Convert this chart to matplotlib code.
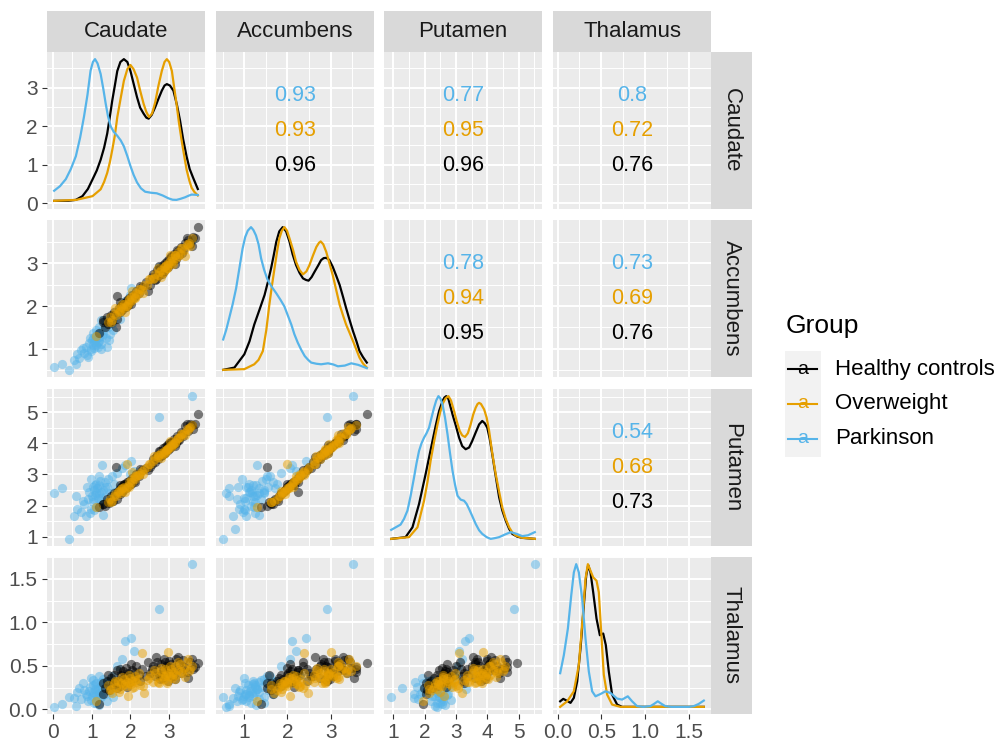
import numpy as np
import matplotlib.pyplot as plt
from matplotlib.lines import Line2D
from matplotlib.patches import Rectangle

plt.rcParams['font.family'] = ['Liberation Sans', 'DejaVu Sans']

variables = ['Caudate', 'Accumbens', 'Putamen', 'Thalamus']
groups = ['Healthy controls', 'Overweight', 'Parkinson']
colors = {'Healthy controls': '#000000', 'Overweight': '#E69F00', 'Parkinson': '#56B4E9'}

# --- subject values ---
hc_caudate = [1.20, 1.28, 1.35, 1.40, 1.45, 1.50, 1.52, 1.58, 1.62, 1.66, 1.70, 1.72, 1.75, 1.78,
              1.80, 1.82, 1.85, 1.88, 1.90, 1.93, 1.97, 2.00, 2.05, 2.10, 2.15, 2.22, 2.30, 2.40,
              2.50, 2.58, 2.63, 2.68, 2.72, 2.76, 2.80, 2.84, 2.87, 2.90, 2.93, 2.95, 2.98, 3.00,
              3.03, 3.06, 3.10, 3.13, 3.17, 3.20, 3.25, 3.30, 3.36, 3.42, 3.48, 3.55, 3.62, 3.74,
              1.30, 1.42, 1.55, 1.65, 1.73, 1.83, 1.92, 2.02, 2.12, 2.25, 2.45, 2.55, 2.65, 2.74,
              2.82, 2.89, 2.97, 3.05, 3.15, 3.23, 3.33, 3.45, 3.58, 3.68]
hc_accumbens = [1.38, 1.62, 1.52, 1.75, 1.62, 1.80, 1.66, 1.86, 1.52, 2.24, 1.95, 1.85, 2.00, 1.90,
                2.05, 1.95, 2.08, 1.98, 2.12, 2.02, 2.18, 2.10, 2.25, 2.20, 2.35, 2.30, 2.45, 2.55,
                2.50, 2.75, 2.60, 2.85, 2.70, 2.88, 2.78, 2.95, 2.82, 3.00, 2.90, 3.05, 2.92, 3.10,
                2.98, 3.15, 3.05, 3.22, 3.10, 3.30, 3.18, 3.38, 3.30, 3.48, 3.55, 3.45, 3.60, 3.84,
                1.67, 1.58, 1.79, 1.70, 2.10, 1.98, 2.15, 2.05, 2.25, 2.46, 2.35, 2.67, 2.64, 2.93,
                2.75, 2.94, 2.95, 3.17, 2.99, 3.28, 3.23, 3.58, 3.40, 3.59]
hc_putamen = [1.95, 2.05, 1.98, 2.20, 2.08, 2.30, 2.15, 2.40, 3.25, 2.45, 2.50, 2.38, 2.60, 2.45,
              2.65, 2.50, 2.70, 2.55, 2.75, 2.62, 2.80, 2.70, 2.90, 2.80, 3.00, 2.95, 3.15, 3.20,
              3.25, 3.50, 3.40, 3.62, 3.50, 3.75, 3.60, 3.85, 3.68, 3.90, 3.78, 3.95, 3.80, 4.00,
              3.86, 4.05, 3.95, 4.15, 4.00, 4.25, 4.10, 4.38, 4.25, 4.55, 4.40, 4.62, 4.45, 4.94,
              2.05, 2.10, 2.15, 2.22, 2.67, 2.68, 2.67, 2.70, 2.75, 3.19, 3.13, 3.35, 3.55, 3.75,
              3.62, 3.69, 3.95, 4.06, 3.93, 4.12, 4.31, 4.63, 4.58, 4.62]
hc_thalamus = [0.06, 0.30, 0.25, 0.33, 0.22, 0.36, 0.28, 0.40, 0.30, 0.45, 0.33, 0.27, 0.40, 0.35,
               0.44, 0.30, 0.38, 0.48, 0.34, 0.42, 0.37, 0.31, 0.45, 0.36, 0.50, 0.40, 0.47, 0.38,
               0.42, 0.50, 0.38, 0.55, 0.45, 0.35, 0.52, 0.44, 0.58, 0.40, 0.50, 0.46, 0.33, 0.56,
               0.43, 0.52, 0.38, 0.48, 0.58, 0.45, 0.53, 0.42, 0.57, 0.48, 0.36, 0.55, 0.46, 0.53,
               0.18, 0.40, 0.30, 0.25, 0.47, 0.32, 0.26, 0.52, 0.43, 0.33, 0.55, 0.47, 0.60, 0.41,
               0.36, 0.55, 0.49, 0.44, 0.35, 0.60, 0.50, 0.43, 0.58, 0.49]

ow_caudate = [1.10, 1.42, 1.48, 1.53, 1.58, 1.63, 1.68, 1.72, 1.76, 1.80, 1.84, 1.88, 1.91, 1.94,
              1.97, 2.00, 2.02, 2.05, 2.08, 2.11, 2.15, 2.19, 2.24, 2.30, 2.35, 2.42, 2.50, 2.58,
              2.64, 2.70, 2.75, 2.79, 2.83, 2.86, 2.89, 2.92, 2.94, 2.96, 2.98, 3.01, 3.04, 3.07,
              3.10, 3.14, 3.18, 3.22, 3.27, 3.32, 3.38, 3.45, 3.52, 3.58,
              1.50, 1.60, 1.70, 1.78, 1.86, 1.95, 2.04, 2.13, 2.22, 2.33, 2.47, 2.61, 2.72, 2.80,
              2.88, 2.95, 3.02, 3.09, 3.16, 3.24, 3.30, 3.40, 3.48, 3.55]
ow_accumbens = [1.30, 1.62, 1.75, 1.68, 1.82, 1.80, 1.93, 1.88, 1.98, 1.95, 2.04, 2.00, 2.00, 2.05,
                2.16, 2.10, 2.22, 2.14, 2.26, 2.20, 2.30, 2.28, 2.40, 2.38, 2.48, 2.50, 2.62, 2.62,
                2.75, 2.72, 2.80, 2.85, 2.78, 2.92, 2.85, 2.95, 2.88, 3.00, 2.95, 3.06, 3.00, 3.12,
                3.05, 3.18, 3.12, 3.25, 3.22, 3.35, 3.30, 3.45, 3.48, 3.58,
                1.63, 1.95, 1.86, 2.04, 1.87, 2.13, 2.35, 2.19, 2.39, 2.30, 2.64, 2.66, 2.88, 2.68,
                2.94, 2.88, 3.18, 2.97, 3.20, 3.17, 3.36, 3.17, 3.43, 3.41]
ow_putamen = [1.94, 2.10, 2.22, 2.15, 2.32, 2.30, 2.45, 2.40, 2.52, 2.48, 2.60, 2.55, 3.35, 2.62,
              2.75, 2.70, 2.82, 2.76, 2.88, 2.85, 2.95, 2.98, 3.05, 3.10, 3.18, 3.25, 3.35, 3.42,
              3.50, 3.55, 3.62, 3.68, 3.65, 3.75, 3.72, 3.80, 3.78, 3.85, 3.82, 3.92, 3.88, 3.98,
              3.95, 4.05, 4.10, 4.18, 4.22, 4.30, 4.35, 4.45, 4.50, 4.58,
              2.13, 2.38, 2.48, 2.57, 2.43, 2.59, 3.08, 2.95, 2.97, 3.01, 3.35, 3.59, 3.64, 3.54,
              3.69, 3.83, 4.08, 3.97, 4.01, 4.17, 4.29, 4.27, 4.42, 4.54]
ow_thalamus = [0.10, 0.28, 0.22, 0.19, 0.30, 0.26, 0.33, 0.24, 0.30, 0.28, 0.35, 0.27, 0.32, 0.15,
               0.30, 0.36, 0.29, 0.33, 0.26, 0.38, 0.31, 0.35, 0.28, 0.65, 0.19, 0.34, 0.40, 0.32,
               0.42, 0.37, 0.30, 0.44, 0.39, 0.35, 0.46, 0.40, 0.33, 0.66, 0.42, 0.38, 0.47, 0.36,
               0.43, 0.50, 0.40, 0.45, 0.52, 0.42, 0.48, 0.55, 0.44, 0.50,
               0.24, 0.33, 0.20, 0.37, 0.29, 0.40, 0.25, 0.34, 0.42, 0.27, 0.36, 0.45, 0.31, 0.48,
               0.38, 0.30, 0.50, 0.41, 0.35, 0.54, 0.44, 0.37, 0.58, 0.46]

pd_caudate = [0.03, 0.22, 0.42, 0.53, 0.59, 0.67, 0.72, 0.80, 0.85, 0.90, 0.93, 0.97, 1.00, 1.02,
              1.04, 1.06, 1.08, 1.10, 1.12, 1.14, 1.16, 1.18, 1.20, 1.22, 1.23, 1.25, 1.27, 1.30,
              1.33, 1.36, 1.40, 1.43, 1.47, 1.52, 1.58, 1.66, 1.72, 1.77, 1.87, 2.02, 2.09, 2.73,
              3.58, 2.00,
              0.78, 0.88, 0.95, 0.99, 1.03, 1.07, 1.09, 1.11, 1.15, 1.19, 1.24, 1.29, 1.35, 1.45,
              1.55, 0.62]
pd_accumbens = [0.58, 0.65, 0.51, 0.73, 0.65, 0.79, 0.98, 0.90, 1.05, 0.82, 1.13, 1.00, 1.20, 1.08,
                1.25, 1.15, 1.30, 1.10, 1.22, 1.35, 1.05, 1.28, 1.18, 1.40, 1.67, 1.12, 1.30, 1.45,
                1.67, 1.25, 1.05, 1.50, 1.35, 1.60, 1.75, 1.85, 1.70, 2.05, 2.11, 2.42, 2.20, 2.92,
                3.53, 2.26,
                1.02, 0.85, 1.25, 0.95, 1.38, 1.02, 1.20, 1.45, 1.15, 1.52, 1.00, 1.35, 1.55, 1.20,
                1.45, 0.88]
pd_putamen = [2.40, 2.55, 0.93, 1.66, 2.32, 1.26, 1.80, 2.05, 1.65, 2.20, 2.45, 1.90, 2.30, 2.60,
              2.10, 2.50, 2.35, 2.70, 1.95, 2.55, 2.25, 2.65, 2.40, 2.80, 2.15, 2.45, 3.31, 2.50,
              2.75, 2.30, 2.60, 2.85, 2.40, 2.95, 2.70, 3.05, 2.55, 3.20, 3.30, 3.43, 3.10, 4.84,
              5.52, 3.00,
              2.15, 2.60, 1.75, 2.85, 2.20, 1.85, 2.65, 2.40, 2.00, 2.95, 2.25, 1.70, 2.60, 2.10,
              2.45, 1.90]
pd_thalamus = [0.03, 0.06, 0.14, 0.13, 0.04, 0.25, 0.12, 0.22, 0.18, 0.10, 0.21, 0.36, 0.15, 0.28,
               0.20, 0.08, 0.24, 0.17, 0.30, 0.12, 0.22, 0.05, 0.19, 0.26, 0.32, 0.14, 0.23, 0.35,
               0.18, 0.28, 0.10, 0.31, 0.20, 0.38, 0.27, 0.50, 0.33, 0.58, 0.79, 0.82, 0.67, 1.15,
               1.67, 0.40,
               0.30, 0.15, 0.26, 0.11, 0.34, 0.18, 0.29, 0.07, 0.25, 0.38, 0.16, 0.31, 0.22, 0.33,
               0.14, 0.20]

# --- density curves (x, height relative to each curve's peak) ---
cau_hc_x = [0.03, 0.40, 0.59, 0.76, 0.90, 1.02, 1.13, 1.23, 1.32, 1.40, 1.47, 1.53, 1.60, 1.66, 1.74,
            1.83, 1.92, 2.00, 2.08, 2.17, 2.25, 2.34, 2.41, 2.47, 2.55, 2.64, 2.72, 2.81, 2.88, 2.94,
            3.02, 3.11, 3.20, 3.28, 3.36, 3.45, 3.53, 3.62, 3.74]
cau_hc_h = [0.007, 0.008, 0.014, 0.04, 0.09, 0.157, 0.22, 0.295, 0.38, 0.479, 0.60, 0.71, 0.82, 0.917,
            0.98, 1.0, 0.98, 0.917, 0.83, 0.733, 0.66, 0.618, 0.59, 0.583, 0.61, 0.664, 0.72, 0.779,
            0.815, 0.825, 0.815, 0.779, 0.68, 0.571, 0.44, 0.318, 0.23, 0.168, 0.09]
cau_ow_x = [0.03, 0.60, 1.02, 1.23, 1.32, 1.40, 1.47, 1.53, 1.60, 1.66, 1.75, 1.83, 1.92, 2.00, 2.08,
            2.17, 2.25, 2.34, 2.41, 2.48, 2.56, 2.64, 2.72, 2.81, 2.88, 2.94, 3.00, 3.07, 3.13, 3.19,
            3.25, 3.32, 3.39, 3.45, 3.52, 3.58, 3.65, 3.74]
cau_ow_h = [0.007, 0.014, 0.04, 0.088, 0.14, 0.203, 0.28, 0.364, 0.47, 0.594, 0.73, 0.848, 0.93, 0.959,
            0.93, 0.871, 0.78, 0.687, 0.63, 0.594, 0.62, 0.698, 0.81, 0.917, 0.98, 1.0, 0.98, 0.917,
            0.80, 0.687, 0.56, 0.433, 0.32, 0.226, 0.15, 0.099, 0.07, 0.045]
cau_pd_x = [0.03, 0.18, 0.33, 0.46, 0.59, 0.70, 0.80, 0.89, 0.97, 1.03, 1.085, 1.15, 1.23, 1.30, 1.36,
            1.42, 1.49, 1.57, 1.66, 1.75, 1.83, 1.92, 2.00, 2.08, 2.17, 2.27, 2.38, 2.53, 2.68, 2.83,
            2.98, 3.09, 3.19, 3.30, 3.41, 3.50, 3.58, 3.66, 3.74]
cau_pd_h = [0.078, 0.11, 0.159, 0.23, 0.32, 0.45, 0.597, 0.75, 0.919, 0.98, 1.0, 0.97, 0.896, 0.79,
            0.689, 0.60, 0.528, 0.49, 0.463, 0.43, 0.389, 0.32, 0.251, 0.19, 0.136, 0.095, 0.071,
            0.064, 0.06, 0.045, 0.025, 0.015, 0.014, 0.022, 0.032, 0.043, 0.051, 0.05, 0.048]

acc_hc_x = [0.51, 0.77, 1.00, 1.12, 1.23, 1.35, 1.47, 1.55, 1.62, 1.68, 1.74, 1.81, 1.89, 1.97, 2.05,
            2.12, 2.20, 2.28, 2.36, 2.43, 2.49, 2.56, 2.63, 2.71, 2.78, 2.84, 2.90, 2.97, 3.05, 3.13,
            3.21, 3.29, 3.36, 3.44, 3.52, 3.60, 3.67, 3.75, 3.84]
acc_hc_h = [0.0, 0.016, 0.109, 0.20, 0.317, 0.42, 0.525, 0.62, 0.711, 0.80, 0.896, 0.97, 1.0, 0.97,
            0.896, 0.81, 0.734, 0.68, 0.641, 0.63, 0.625, 0.65, 0.688, 0.73, 0.769, 0.783, 0.785,
            0.77, 0.722, 0.66, 0.595, 0.51, 0.433, 0.35, 0.271, 0.20, 0.132, 0.09, 0.051]
acc_ow_x = [0.51, 1.00, 1.23, 1.33, 1.43, 1.51, 1.58, 1.64, 1.70, 1.76, 1.81, 1.87, 1.93, 1.99, 2.05,
            2.13, 2.20, 2.28, 2.36, 2.44, 2.51, 2.59, 2.67, 2.73, 2.77, 2.83, 2.90, 2.97, 3.05, 3.13,
            3.21, 3.29, 3.36, 3.44, 3.52, 3.60, 3.67, 3.75, 3.84]
acc_ow_h = [0.0, 0.005, 0.039, 0.07, 0.132, 0.28, 0.456, 0.59, 0.711, 0.83, 0.919, 0.975, 1.0, 0.975,
            0.919, 0.84, 0.757, 0.70, 0.669, 0.69, 0.734, 0.80, 0.861, 0.89, 0.90, 0.88, 0.826, 0.75,
            0.664, 0.56, 0.456, 0.38, 0.317, 0.26, 0.201, 0.14, 0.086, 0.045, 0.016]
acc_pd_x = [0.51, 0.58, 0.65, 0.73, 0.81, 0.89, 0.96, 1.02, 1.08, 1.155, 1.21, 1.27, 1.33, 1.39, 1.46,
            1.54, 1.64, 1.74, 1.84, 1.93, 2.01, 2.09, 2.16, 2.24, 2.32, 2.40, 2.48, 2.55, 2.67, 2.78,
            2.94, 3.06, 3.17, 3.33, 3.48, 3.64, 3.84]
acc_pd_h = [0.213, 0.28, 0.363, 0.46, 0.572, 0.72, 0.85, 0.93, 0.975, 1.0, 0.98, 0.942, 0.88, 0.78,
            0.70, 0.63, 0.58, 0.537, 0.49, 0.444, 0.38, 0.317, 0.25, 0.19, 0.14, 0.097, 0.07, 0.051,
            0.043, 0.039, 0.046, 0.038, 0.025, 0.03, 0.046, 0.035, 0.012]

put_hc_x = [0.93, 1.39, 1.61, 1.82, 2.03, 2.14, 2.25, 2.35, 2.46, 2.57, 2.63, 2.69, 2.76, 2.89, 3.00,
            3.10, 3.20, 3.31, 3.42, 3.52, 3.63, 3.74, 3.84, 3.92, 4.00, 4.08, 4.16, 4.27, 4.38, 4.48,
            4.59, 4.70, 4.80, 4.96, 5.12, 5.52]
put_hc_h = [0.0, 0.012, 0.081, 0.244, 0.453, 0.57, 0.686, 0.79, 0.895, 0.965, 0.99, 1.0, 0.98, 0.872,
            0.79, 0.709, 0.65, 0.628, 0.64, 0.686, 0.745, 0.802, 0.826, 0.81, 0.779, 0.70, 0.593, 0.44,
            0.291, 0.20, 0.128, 0.07, 0.035, 0.015, 0.007, 0.0]
put_ow_x = [0.93, 1.50, 1.77, 1.98, 2.09, 2.19, 2.30, 2.41, 2.50, 2.59, 2.67, 2.76, 2.84, 2.94, 3.03,
            3.12, 3.20, 3.29, 3.38, 3.47, 3.55, 3.63, 3.69, 3.74, 3.80, 3.90, 3.98, 4.06, 4.16, 4.27,
            4.38, 4.48, 4.59, 4.70, 4.80, 4.91, 5.10, 5.52]
put_ow_h = [0.0, 0.012, 0.081, 0.267, 0.40, 0.547, 0.68, 0.802, 0.89, 0.953, 0.985, 1.0, 0.97, 0.895,
            0.82, 0.756, 0.725, 0.714, 0.74, 0.802, 0.87, 0.919, 0.945, 0.953, 0.945, 0.907, 0.85,
            0.756, 0.60, 0.453, 0.33, 0.221, 0.14, 0.081, 0.045, 0.023, 0.008, 0.0]
put_pd_x = [0.93, 1.23, 1.34, 1.45, 1.55, 1.66, 1.74, 1.82, 1.90, 1.98, 2.06, 2.14, 2.22, 2.30, 2.37,
            2.44, 2.50, 2.57, 2.65, 2.73, 2.81, 2.89, 2.97, 3.05, 3.15, 3.26, 3.34, 3.42, 3.52, 3.63,
            3.74, 3.84, 3.98, 4.11, 4.24, 4.38, 4.56, 4.75, 4.94, 5.12, 5.30, 5.52]
put_pd_h = [0.063, 0.10, 0.14, 0.198, 0.30, 0.43, 0.53, 0.616, 0.67, 0.709, 0.74, 0.779, 0.85, 0.919,
            0.97, 1.0, 0.985, 0.942, 0.85, 0.733, 0.60, 0.477, 0.38, 0.302, 0.275, 0.267, 0.245,
            0.209, 0.16, 0.105, 0.06, 0.035, 0.012, 0.0, 0.005, 0.012, 0.03, 0.047, 0.035, 0.019,
            0.025, 0.047]

tha_hc_x = [0.03, 0.065, 0.103, 0.148, 0.186, 0.224, 0.262, 0.30, 0.327, 0.35, 0.376, 0.407, 0.445,
            0.483, 0.505, 0.521, 0.551, 0.585, 0.623, 0.68, 0.737, 1.67]
tha_hc_h = [0.039, 0.056, 0.044, 0.028, 0.063, 0.178, 0.41, 0.711, 0.919, 0.993, 0.942, 0.803, 0.618,
            0.502, 0.51, 0.514, 0.433, 0.248, 0.086, 0.016, 0.0, 0.0]
tha_ow_x = [0.03, 0.11, 0.186, 0.243, 0.289, 0.319, 0.346, 0.376, 0.407, 0.445, 0.471, 0.498, 0.528,
            0.566, 0.623, 0.718, 1.67]
tha_ow_h = [0.0, 0.039, 0.109, 0.294, 0.641, 0.896, 1.0, 0.954, 0.907, 0.884, 0.803, 0.525, 0.225,
            0.086, 0.016, 0.0, 0.0]
tha_pd_x = [0.03, 0.072, 0.118, 0.156, 0.186, 0.213, 0.243, 0.281, 0.319, 0.357, 0.395, 0.433, 0.49,
            0.547, 0.605, 0.68, 0.737, 0.802, 0.851, 0.908, 0.98, 1.06, 1.10, 1.144, 1.19, 1.231,
            1.30, 1.40, 1.50, 1.555, 1.61, 1.67]
tha_pd_h = [0.236, 0.363, 0.549, 0.78, 0.942, 1.0, 0.942, 0.757, 0.479, 0.248, 0.109, 0.074, 0.09,
            0.109, 0.097, 0.058, 0.051, 0.074, 0.039, 0.005, 0.0, 0.005, 0.02, 0.039, 0.02, 0.005,
            0.0, 0.0, 0.0, 0.005, 0.02, 0.044]

# correlations, upper triangle in order (0,1) (0,2) (0,3) (1,2) (1,3) (2,3)
cor_pairs = [(0, 1), (0, 2), (0, 3), (1, 2), (1, 3), (2, 3)]
cor_hc = [0.96, 0.96, 0.76, 0.95, 0.76, 0.73]
cor_ow = [0.93, 0.95, 0.72, 0.94, 0.69, 0.68]
cor_pd = [0.93, 0.77, 0.8, 0.78, 0.73, 0.54]

tick_values = [[0, 1, 2, 3], [1, 2, 3], [1, 2, 3, 4, 5], [0, 0.5, 1.0, 1.5]]
tick_labels = [['0', '1', '2', '3'], ['1', '2', '3'], ['1', '2', '3', '4', '5'],
               ['0.0', '0.5', '1.0', '1.5']]

scatter = {
    'Healthy controls': [hc_caudate, hc_accumbens, hc_putamen, hc_thalamus],
    'Overweight': [ow_caudate, ow_accumbens, ow_putamen, ow_thalamus],
    'Parkinson': [pd_caudate, pd_accumbens, pd_putamen, pd_thalamus],
}
density = [
    {'Healthy controls': (cau_hc_x, cau_hc_h), 'Overweight': (cau_ow_x, cau_ow_h), 'Parkinson': (cau_pd_x, cau_pd_h)},
    {'Healthy controls': (acc_hc_x, acc_hc_h), 'Overweight': (acc_ow_x, acc_ow_h), 'Parkinson': (acc_pd_x, acc_pd_h)},
    {'Healthy controls': (put_hc_x, put_hc_h), 'Overweight': (put_ow_x, put_ow_h), 'Parkinson': (put_pd_x, put_pd_h)},
    {'Healthy controls': (tha_hc_x, tha_hc_h), 'Overweight': (tha_ow_x, tha_ow_h), 'Parkinson': (tha_pd_x, tha_pd_h)},
]
cors = {'Healthy controls': cor_hc, 'Overweight': cor_ow, 'Parkinson': cor_pd}

# data range per variable (ggplot: 5% expansion)
ranges = []
for k in range(4):
    allv = np.concatenate([np.array(scatter[g][k]) for g in groups])
    ranges.append((allv.min(), allv.max()))
limits = [(lo - 0.05 * (hi - lo), hi + 0.05 * (hi - lo)) for lo, hi in ranges]


def minor_ticks(major, lim):
    step = major[1] - major[0]
    cand = [t - step / 2 for t in major] + [major[-1] + step / 2]
    return [c for c in cand if lim[0] <= c <= lim[1]]


W, H = 996, 745
fig = plt.figure(figsize=(W / 100, H / 100), dpi=100)


def fbox(x, y, w, h):
    return [x / W, 1 - (y + h) / H, w / W, h / H]


col_left = [47, 216, 384, 553]
row_top = [52, 220, 389, 557]
pw, ph = 158, 157
tick_col = '#4D4D4D'

for i in range(4):
    for j in range(4):
        ax = fig.add_axes(fbox(col_left[j], row_top[i], pw, ph))
        ax.set_facecolor('#EBEBEB')
        for s in ax.spines.values():
            s.set_visible(False)
        ax.set_xlim(limits[j])
        ax.set_ylim(limits[i])
        ax.set_xticks(tick_values[j])
        ax.set_yticks(tick_values[i])
        ax.set_xticks(minor_ticks(tick_values[j], limits[j]), minor=True)
        ax.set_yticks(minor_ticks(tick_values[i], limits[i]), minor=True)
        ax.grid(which='major', color='white', lw=1.4)
        ax.grid(which='minor', color='white', lw=0.7)
        ax.set_axisbelow(True)
        ax.tick_params(which='minor', length=0)
        ax.tick_params(which='major', length=3.6, width=0.8, color='#333333',
                       labelsize=15, labelcolor=tick_col, pad=3)
        if j == 0:
            ax.set_yticklabels(tick_labels[i])
        else:
            ax.tick_params(axis='y', length=0, labelleft=False)
        if i == 3:
            ax.set_xticklabels(tick_labels[j])
        else:
            ax.tick_params(axis='x', length=0, labelbottom=False)

        if i > j:
            for g in ['Parkinson', 'Healthy controls', 'Overweight']:
                ax.scatter(scatter[g][j], scatter[g][i], s=44, color=colors[g],
                           alpha=0.5, linewidths=0, zorder=3)
        elif i == j:
            lo, hi = ranges[i]
            for g in groups:
                x, h = density[i][g]
                ax.plot(x, lo + np.array(h) * (hi - lo), color=colors[g], lw=1.6, zorder=3)
        else:
            k = cor_pairs.index((i, j))
            for g, yf in zip(['Parkinson', 'Overweight', 'Healthy controls'], [0.725, 0.5, 0.275]):
                ax.text(0.5, yf, f'{cors[g][k]:g}', transform=ax.transAxes, ha='center',
                        va='center', color=colors[g], fontsize=15.5)

# strips
for j, v in enumerate(variables):
    sax = fig.add_axes(fbox(col_left[j], 11, pw, 41))
    sax.set_facecolor('#D9D9D9')
    sax.set_xticks([])
    sax.set_yticks([])
    for s in sax.spines.values():
        s.set_visible(False)
    sax.text(0.5, 0.5, v, ha='center', va='center', fontsize=16, color='#1A1A1A',
             transform=sax.transAxes)
for i, v in enumerate(variables):
    sax = fig.add_axes(fbox(711, row_top[i], 41, ph))
    sax.set_facecolor('#D9D9D9')
    sax.set_xticks([])
    sax.set_yticks([])
    for s in sax.spines.values():
        s.set_visible(False)
    sax.text(0.5, 0.5, v, ha='center', va='center', fontsize=16, color='#1A1A1A',
             rotation=-90, transform=sax.transAxes)

# legend
fig.text(786 / W, 1 - 333 / H, 'Group', fontsize=19, color='black', va='baseline')
fig.add_artist(Rectangle((785 / W, 1 - 457 / H), 36 / W, 106 / H, transform=fig.transFigure,
                         facecolor='#F2F2F2', edgecolor='none'))
for g, yc in zip(groups, [369, 404, 439]):
    yf = 1 - yc / H
    fig.add_artist(Line2D([788 / W, 817 / W], [yf, yf], transform=fig.transFigure,
                          color=colors[g], lw=1.5))
    fig.text(802.5 / W, yf, 'a', color=colors[g], fontsize=14, ha='center', va='center')
    fig.text(835 / W, yf, g, fontsize=16, color='black', va='center')

fig.savefig('out.png', dpi=100)
